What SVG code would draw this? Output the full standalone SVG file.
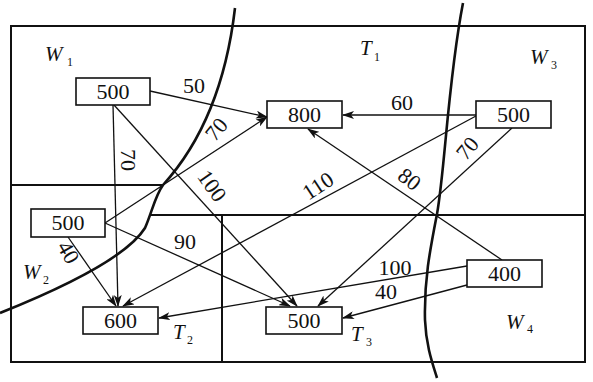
<svg xmlns="http://www.w3.org/2000/svg" width="593" height="382" viewBox="0 0 593 382">
<defs>
<marker id="ah" markerUnits="userSpaceOnUse" markerWidth="12" markerHeight="8" refX="11" refY="4" orient="auto">
<path d="M0,0 L12,4 L0,8 L3,4 Z" fill="#111"/>
</marker>
<style>
.frame{fill:none;stroke:#111;stroke-width:2}
.bound{fill:none;stroke:#111;stroke-width:2.6}
.box{fill:#fff;stroke:#111;stroke-width:1.6}
.num{font-family:"Liberation Serif",serif;font-size:22px;fill:#111;text-anchor:middle}
.it{font-family:"Liberation Serif",serif;font-size:21px;font-style:italic;fill:#111}
.sub{font-family:"Liberation Serif",serif;font-size:12px;fill:#111}
.edge{stroke:#111;stroke-width:1.3;fill:none;marker-end:url(#ah)}
</style>
</defs>
<rect width="593" height="382" fill="#fff"/>
<g id="regions">
<rect class="frame" x="11" y="26" width="574" height="336"/>
<line class="frame" x1="11" y1="185" x2="163" y2="185"/>
<line class="frame" x1="149" y1="215" x2="585" y2="215"/>
<line class="frame" x1="222" y1="215" x2="222" y2="362"/>
<path class="bound" d="M235,8 Q222,120 163,185 C155,196 152,212 145,228 C128,255 70,285 0,313"/>
<path class="bound" d="M463,3 C448,80 445,170 437,214 C430,250 424,280 425,320 C426,345 432,362 437,378"/>
</g>
<g id="region-labels">
<text class="it" x="45" y="61">W</text><text class="sub" x="67" y="66">1</text>
<text class="it" x="360" y="55">T</text><text class="sub" x="374" y="61">1</text>
<text class="it" x="530" y="64">W</text><text class="sub" x="551" y="69">3</text>
<text class="it" x="23" y="279">W</text><text class="sub" x="43" y="284">2</text>
<text class="it" x="173" y="339">T</text><text class="sub" x="187" y="344">2</text>
<text class="it" x="351" y="341">T</text><text class="sub" x="366" y="346">3</text>
<text class="it" x="506" y="329">W</text><text class="sub" x="527" y="333">4</text>
</g>
<g id="connectors">
<line class="edge" x1="150" y1="91" x2="267" y2="117"/>
<line class="edge" x1="105" y1="223" x2="267" y2="117"/>
<line class="edge" x1="113" y1="105" x2="118" y2="306"/>
<line class="edge" x1="114" y1="105" x2="297" y2="306"/>
<line class="edge" x1="105" y1="223" x2="290" y2="306"/>
<line class="edge" x1="68" y1="237" x2="116" y2="306"/>
<line class="edge" x1="476" y1="115" x2="343" y2="115"/>
<line class="edge" x1="476" y1="116" x2="123" y2="306"/>
<line class="edge" x1="512" y1="128" x2="318" y2="306"/>
<line class="edge" x1="502" y1="260" x2="308" y2="129"/>
<line class="edge" x1="467" y1="266" x2="159" y2="318"/>
<line class="edge" x1="467" y1="285" x2="343" y2="318"/>
</g>
<g id="edge-labels">
<text class="num" x="194" y="93">50</text>
<text class="num" transform="translate(222,134) rotate(-50)">70</text>
<text class="num" transform="translate(121,160) rotate(90)">70</text>
<text class="num" transform="translate(206,190) rotate(55)">100</text>
<text class="num" transform="translate(322,192) rotate(-33)">110</text>
<text class="num" transform="translate(405,185) rotate(38)">80</text>
<text class="num" transform="translate(473,153) rotate(-50)">70</text>
<text class="num" x="402" y="110">60</text>
<text class="num" transform="translate(62,256) rotate(60)">40</text>
<text class="num" x="185" y="249">90</text>
<text class="num" x="395" y="275">100</text>
<text class="num" x="386" y="299">40</text>
</g>
<g id="n-w1"><rect class="box" x="76" y="78" width="74" height="27"/><text class="num" x="113" y="99">500</text></g>
<g id="n-t1"><rect class="box" x="267" y="101" width="75" height="27"/><text class="num" x="304.5" y="122">800</text></g>
<g id="n-w3"><rect class="box" x="476" y="101" width="75" height="27"/><text class="num" x="513.5" y="122">500</text></g>
<g id="n-w2"><rect class="box" x="31" y="209" width="74" height="28"/><text class="num" x="68" y="230">500</text></g>
<g id="n-t2"><rect class="box" x="83" y="307" width="75" height="27"/><text class="num" x="120.5" y="328">600</text></g>
<g id="n-t3"><rect class="box" x="266" y="307" width="76" height="27"/><text class="num" x="304" y="328">500</text></g>
<g id="n-w4"><rect class="box" x="467" y="260" width="75" height="27"/><text class="num" x="504.5" y="281">400</text></g>
</svg>
